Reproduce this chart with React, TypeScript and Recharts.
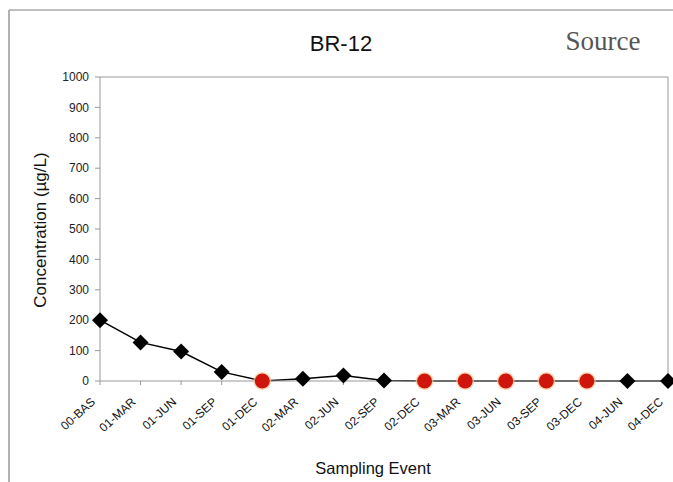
import React from 'react';
import { LineChart, Line, XAxis, YAxis, ReferenceLine, Customized } from 'recharts';

const categories = ['00-BAS', '01-MAR', '01-JUN', '01-SEP', '01-DEC', '02-MAR', '02-JUN', '02-SEP', '02-DEC', '03-MAR', '03-JUN', '03-SEP', '03-DEC', '04-JUN', '04-DEC'];
const concentrations = [200, 127, 97, 30, 0, 7, 18, 2, 0, 0, 0, 0, 0, 0, 0];
const nonDetect = [false, false, false, false, true, false, false, false, true, true, true, true, true, false, false];
const yTicks = [0, 100, 200, 300, 400, 500, 600, 700, 800, 900, 1000];

const data = categories.map((c, i) => ({ event: c, value: concentrations[i], nd: nonDetect[i] }));

const FONT = '"Liberation Sans", Arial, sans-serif';

const Dot = (props: any) => {
  const { cx, cy, payload, index } = props;
  if (cx == null || cy == null) return null;
  if (payload.nd) {
    return (
      <g key={`d${index}`}>
        <circle cx={cx} cy={cy} r={9} fill="#f6c89a" opacity={0.7} />
        <circle cx={cx} cy={cy} r={7.5} fill="#d0160c" />
      </g>
    );
  }
  const s = 8;
  return (
    <polygon
      key={`d${index}`}
      points={`${cx},${cy - s} ${cx + s},${cy} ${cx},${cy + s} ${cx - s},${cy}`}
      fill="#000"
    />
  );
};

const XTick = (props: any) => {
  const { x, y, payload } = props;
  const ax = x - 4;
  const ay = y + 16;
  return (
    <text
      x={ax}
      y={ay}
      textAnchor="end"
      transform={`rotate(-42, ${ax}, ${ay})`}
      fontFamily={FONT}
      fontSize={12}
      fill="#111"
    >
      {payload.value}
    </text>
  );
};

const Decor = () => (
  <g>
    <line x1={9} y1={10} x2={673} y2={10} stroke="#aaa" strokeWidth={1.5} />
    <line x1={9} y1={10} x2={9} y2={482} stroke="#999" strokeWidth={1.5} />
    <text x={341} y={51} textAnchor="middle" fontFamily={FONT} fontSize={22} fill="#111">BR-12</text>
    <text x={603} y={50} textAnchor="middle" fontFamily='"Liberation Serif", "Times New Roman", serif' fontSize={27} fill="#555">Source</text>
    <text
      x={46}
      y={230}
      textAnchor="middle"
      transform="rotate(-90, 46, 230)"
      fontFamily={FONT}
      fontSize={17}
      fill="#111"
    >
      Concentration (µg/L)
    </text>
    <text x={373} y={474} textAnchor="middle" fontFamily={FONT} fontSize={16.5} fill="#111">Sampling Event</text>
  </g>
);

export default function App() {
  return (
    <div style={{ position: 'absolute', left: 0, top: 0, width: 673, height: 482, background: '#fff' }}>
      <LineChart width={673} height={482} data={data} margin={{ top: 77, right: 5, bottom: 0, left: 0 }}>
        <Customized component={<Decor />} />
        <XAxis
          dataKey="event"
          interval={0}
          height={101}
          tick={<XTick />}
          tickLine={{ stroke: '#999' }}
          tickSize={4}
          axisLine={{ stroke: '#999' }}
        />
        <YAxis
          domain={[0, 1000]}
          ticks={yTicks}
          width={100}
          tickSize={5}
          tickMargin={6}
          axisLine={{ stroke: '#999' }}
          tickLine={{ stroke: '#999' }}
          tick={{ fontFamily: FONT, fontSize: 12, fill: '#222' }}
        />
        <ReferenceLine y={1000} stroke="#999" />
        <ReferenceLine x="04-DEC" stroke="#999" />
        <Line
          type="linear"
          dataKey="value"
          stroke="#000"
          strokeWidth={1.5}
          dot={<Dot />}
          isAnimationActive={false}
        />
      </LineChart>
    </div>
  );
}
